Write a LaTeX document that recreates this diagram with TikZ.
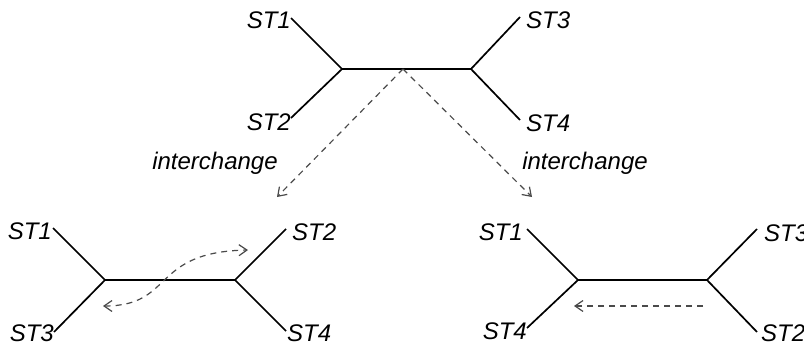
\documentclass[tikz,border=0pt]{standalone}
\usepackage{fontspec}
\setmainfont{Liberation Sans}
\usetikzlibrary{arrows.meta}
\definecolor{dashgray}{HTML}{4A4A4A}
\begin{document}
\begin{tikzpicture}[x=1pt,y=-1pt,
  branch/.style={line width=1.7pt},
  lbl/.style={inner sep=1pt,font=\fontsize{24}{28}\selectfont\itshape},
  move/.style={dashgray,line width=1.2pt,dash pattern=on 6pt off 5pt,-{Straight Barb[length=8pt,width=11pt]}},
  swap/.style={dashgray,line width=1.2pt,dash pattern=on 6pt off 5pt,{Straight Barb[length=8pt,width=11pt]}-{Straight Barb[length=8pt,width=11pt]}}]
\useasboundingbox (0,0) rectangle (804,348);
% top tree
\coordinate (tA) at (342,69);
\coordinate (tB) at (471,69);
\coordinate (t1) at (291,18);
\coordinate (t2) at (291,118);
\coordinate (t3) at (520,17);
\coordinate (t4) at (520,120);
\draw[branch] (t1) -- (tA) -- (t2);
\draw[branch] (tA) -- (tB);
\draw[branch] (t3) -- (tB) -- (t4);
\node[lbl,anchor=east] (lt1) at ([xshift=1pt,yshift=-2pt]t1) {ST1};
\node[lbl,anchor=east] (lt2) at ([xshift=1pt,yshift=-4pt]t2) {ST2};
\node[lbl,anchor=west] (lt3) at ([xshift=5pt,yshift=-3pt]t3) {ST3};
\node[lbl,anchor=west] (lt4) at ([xshift=5pt,yshift=-3pt]t4) {ST4};
% interchange arrows
\coordinate (tm) at (403,69);
\coordinate (ll) at (277,197);
\coordinate (rr) at (532,197);
\draw[move] (tm) -- (ll);
\draw[move] (tm) -- (rr);
\node[lbl] (i1) at (215,163) {interchange};
\node[lbl] (i2) at (585,163) {interchange};
% bottom-left tree
\coordinate (lA) at (105,280);
\coordinate (lB) at (235,280);
\coordinate (l1) at (53,228);
\coordinate (l3) at (54,332);
\coordinate (l2) at (286,229);
\coordinate (l4) at (286,331);
\draw[branch] (l1) -- (lA) -- (l3);
\draw[branch] (lA) -- (lB);
\draw[branch] (l2) -- (lB) -- (l4);
\node[lbl,anchor=east] (ll1) at ([xshift=0pt,yshift=-3.5pt]l1) {ST1};
\node[lbl,anchor=east] (ll3) at ([xshift=1pt,yshift=-1pt]l3) {ST3};
\node[lbl,anchor=west] (ll2) at ([xshift=5pt,yshift=-3.5pt]l2) {ST2};
\node[lbl,anchor=west] (ll4) at ([xshift=0pt,yshift=-2.5pt]l4) {ST4};
\coordinate (s1) at (103,306);
\coordinate (s2) at (248,250);
\draw[swap] (s1) .. controls (175,306) and (150,252) .. (s2);
% bottom-right tree
\coordinate (rA) at (578,280);
\coordinate (rB) at (707,280);
\coordinate (r1) at (527,229);
\coordinate (r4) at (527,328);
\coordinate (r3) at (757,229);
\coordinate (r2) at (757,332);
\draw[branch] (r1) -- (rA) -- (r4);
\draw[branch] (rA) -- (rB);
\draw[branch] (r3) -- (rB) -- (r2);
\node[lbl,anchor=east] (lr1) at ([xshift=-3pt,yshift=-3.5pt]r1) {ST1};
\node[lbl,anchor=east] (lr4) at ([xshift=1pt,yshift=-3.5pt]r4) {ST4};
\node[lbl,anchor=west] (lr3) at ([xshift=6pt,yshift=-4.5pt]r3) {ST3};
\node[lbl,anchor=west] (lr2) at ([xshift=3pt,yshift=-1.5pt]r2) {ST2};
\coordinate (h1) at (703,306);
\coordinate (h2) at (574,306);
\draw[move] (h1) -- (h2);
\end{tikzpicture}
\end{document}
